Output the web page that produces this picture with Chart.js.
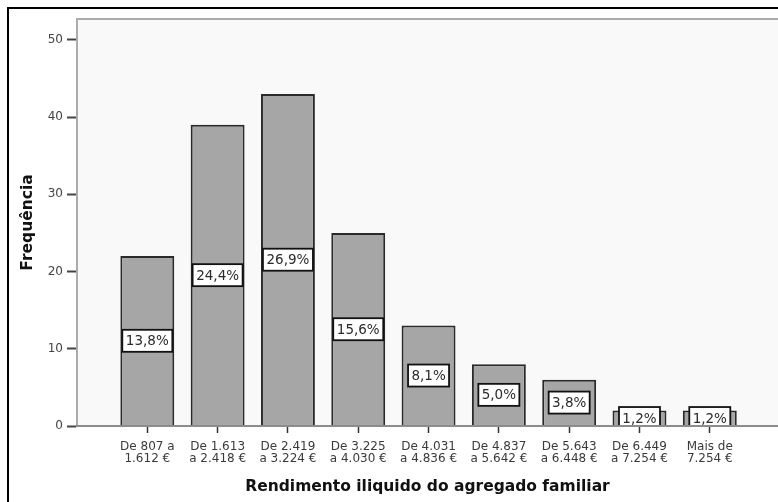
<!DOCTYPE html>
<html>
<head>
<meta charset="utf-8">
<script src="https://cdn.jsdelivr.net/npm/chart.js@4/dist/chart.umd.min.js"></script>
<style>
  html, body { margin: 0; padding: 0; background: #fff; overflow: hidden; }
  #wrap { position: relative; width: 778px; height: 502px; }
  #frame { position: absolute; left: 7px; top: 7px; right: 0; bottom: 0;
           border-left: 2px solid #000; border-top: 2px solid #000; }
  canvas { position: absolute; left: 0; top: 0; }
</style>
</head>
<body>
<div id="wrap">
  <div id="frame"></div>
  <canvas id="chart" width="778" height="502"></canvas>
</div>
<script>
// Income bands (two-line tick labels)
const incomeBands = [
  ['De 807 a', '1.612 €'],
  ['De 1.613', 'a 2.418 €'],
  ['De 2.419', 'a 3.224 €'],
  ['De 3.225', 'a 4.030 €'],
  ['De 4.031', 'a 4.836 €'],
  ['De 4.837', 'a 5.642 €'],
  ['De 5.643', 'a 6.448 €'],
  ['De 6.449', 'a 7.254 €'],
  ['Mais de', '7.254 €']
];
// Number of households per band
const frequencies = [22, 39, 43, 25, 13, 8, 6, 2, 2];
// Share of the total, as printed inside each bar
const percentLabels = ['13,8%', '24,4%', '26,9%', '15,6%', '8,1%', '5,0%', '3,8%', '1,2%', '1,2%'];
// Value axis ticks
const yTicks = [0, 10, 20, 30, 40, 50];

const tickFont = { family: '"DejaVu Sans"', size: 12, lineHeight: 1.0 };
const titleFont = { family: '"DejaVu Sans"', size: 15.5, weight: 'bold' };

const plotBackground = {
  id: 'plotBackground',
  beforeDraw(chart) {
    const { ctx, chartArea: a } = chart;
    ctx.save();
    ctx.fillStyle = '#f9f9f9';
    ctx.fillRect(a.left, a.top, a.right - a.left, a.bottom - a.top);
    ctx.strokeStyle = '#ababab';
    ctx.lineWidth = 2;
    ctx.beginPath();
    ctx.moveTo(a.left, a.top);
    ctx.lineTo(a.right, a.top);
    ctx.stroke();
    ctx.restore();
  }
};

const percentBoxes = {
  id: 'percentBoxes',
  afterDatasetsDraw(chart) {
    const { ctx, chartArea: a } = chart;
    const meta = chart.getDatasetMeta(0);
    ctx.save();
    ctx.beginPath();
    ctx.rect(a.left, a.top, a.right - a.left, a.bottom - a.top);
    ctx.clip();
    ctx.font = '13.5px "DejaVu Sans"';
    ctx.textAlign = 'center';
    ctx.textBaseline = 'middle';
    meta.data.forEach((bar, i) => {
      const text = percentLabels[i];
      const w = Math.round(ctx.measureText(text).width + 7);
      const h = 22;
      const cx = bar.x;
      const cy = (bar.y + bar.base) / 2;
      ctx.fillStyle = '#ffffff';
      ctx.fillRect(cx - w / 2, cy - h / 2, w, h);
      ctx.strokeStyle = '#111';
      ctx.lineWidth = 1.8;
      ctx.strokeRect(cx - w / 2, cy - h / 2, w, h);
      ctx.fillStyle = '#2a2a2a';
      ctx.fillText(text, cx, cy + 1);
    });
    ctx.restore();
  }
};

new Chart(document.getElementById('chart'), {
  type: 'bar',
  data: {
    datasets: [{
      data: frequencies.map((v, i) => ({ x: i, y: v })),
      backgroundColor: '#a6a6a6',
      borderColor: '#2a2a2a',
      borderWidth: 2,
      categoryPercentage: 1,
      barPercentage: 0.767
    }]
  },
  options: {
    responsive: false,
    animation: false,
    devicePixelRatio: 1,
    layout: { padding: { top: 19, left: 0, right: 0, bottom: 0 } },
    plugins: { legend: { display: false }, tooltip: { enabled: false } },
    scales: {
      x: {
        type: 'linear',
        min: -1,
        max: 8.97,
        offset: false,
        afterBuildTicks(scale) {
          scale.ticks = incomeBands.map((_, i) => ({ value: i }));
        },
        ticks: {
          autoSkip: false,
          maxRotation: 0,
          padding: 8,
          font: tickFont,
          color: '#3a3a3a',
          callback: (v) => incomeBands[v]
        },
        grid: { drawOnChartArea: false, offset: false, tickLength: 7, tickColor: '#333', tickWidth: 1.5 },
        border: { color: '#8c8c8c', width: 2, z: 1 },
        title: {
          display: true,
          text: 'Rendimento iliquido do agregado familiar',
          font: titleFont,
          color: '#111',
          padding: { top: 0, bottom: 6 }
        },
        afterFit(scale) { scale.height = 76; }
      },
      y: {
        type: 'linear',
        min: 0,
        max: 52.7,
        afterBuildTicks(scale) {
          scale.ticks = yTicks.map(v => ({ value: v }));
        },
        ticks: { padding: 4, font: tickFont, color: '#444' },
        grid: { drawOnChartArea: false, tickLength: 10, tickColor: '#444', tickWidth: 2 },
        border: { color: '#ababab', width: 2 },
        title: {
          display: true,
          text: 'Frequência',
          font: titleFont,
          color: '#111',
          padding: { top: 19, bottom: 0 }
        },
        afterFit(scale) { scale.width = 77; }
      }
    }
  },
  plugins: [plotBackground, percentBoxes]
});
</script>
</body>
</html>
